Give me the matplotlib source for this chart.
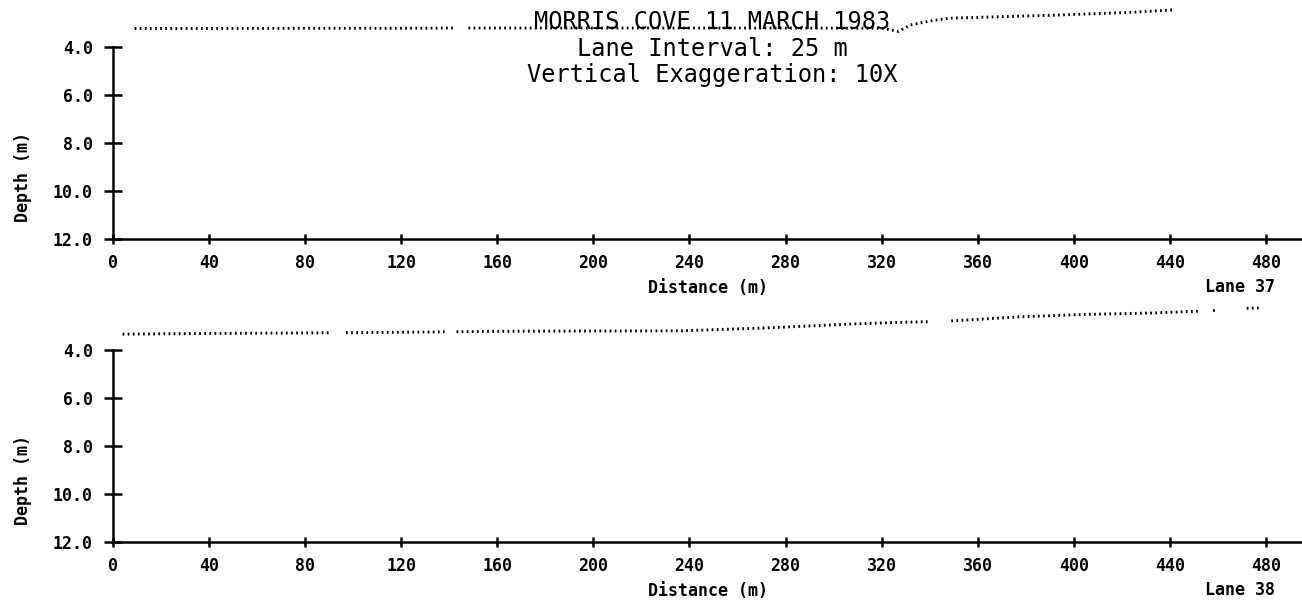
"""
Depth profiles, Morris Cove 11 March 1983, lanes 37 and 38
"""
import numpy as np
import matplotlib
matplotlib.use('Agg')
import matplotlib.pyplot as plt

# lane 37 profile (distance m, depth m), nan = gap in the soundings
dist37 = [9, 40, 80, 120, 142, 145, 148, 165, 200, 240, 280, 320, 327, 332, 340, 348, 362, 376, 390, 404, 425, 442]
depth37 = [3.23, 3.23, 3.22, 3.22, 3.21, np.nan, 3.21, 3.21, 3.21, 3.21, 3.21, 3.22, 3.35, 3.08, 2.92, 2.80,
           2.76, 2.72, 2.68, 2.63, 2.55, 2.45]

# lane 38 profile
dist38 = [4, 40, 80, 91, 94, 97, 133, 139, 141, 143, 160, 200, 237, 272, 307, 321, 335, 340, 344, 349, 377, 404,
          432, 453, 456, 458, 460, 466, 472, 478]
depth38 = [3.34, 3.31, 3.29, 3.28, np.nan, 3.28, 3.25, 3.24, np.nan, 3.24, 3.22, 3.21, 3.20, 3.08, 2.92, 2.87,
           2.83, 2.82, np.nan, 2.79, 2.62, 2.52, 2.46, 2.38, np.nan, 2.36, 2.34, np.nan, 2.26, 2.25]

lanes = ['Lane 37', 'Lane 38']
xticks = list(range(0, 481, 40))
yticks = [4.0, 6.0, 8.0, 10.0, 12.0]
title_lines = ['MORRIS COVE 11 MARCH 1983', 'Lane Interval: 25 m', 'Vertical Exaggeration: 10X']

MONO = 'DejaVu Sans Mono'

fig = plt.figure(figsize=(13.02, 6.10), dpi=100)

# axes boxes in pixels (top of box, bottom of box = 12 m line)
boxes = [(0, 239), (303, 542)]
W, H = 1302, 610
for (top, bot), xs, ys, lane in zip(boxes, [dist37, dist38], [depth37, depth38], lanes):
    ax = fig.add_axes([113 / W, 1 - bot / H, (W - 113) / W, (bot - top) / H])
    ax.plot(xs, ys, color='black', lw=2.1, linestyle=(0, (0.6, 1.15)), dash_capstyle='butt', clip_on=False)
    ax.set_xlim(0, 495)
    ax.set_ylim(12, 12 - (bot - top) / 24)
    ax.spines['top'].set_visible(False)
    ax.spines['right'].set_visible(False)
    ax.spines['left'].set_bounds(4, 12)
    ax.spines['left'].set_linewidth(1.8)
    ax.spines['bottom'].set_linewidth(1.8)
    ax.set_xticks(xticks)
    ax.set_yticks(yticks)
    ax.set_yticklabels([f'{v:.1f}' for v in yticks])
    ax.tick_params(axis='y', direction='inout', length=13, width=1.8, pad=8)
    ax.tick_params(axis='x', direction='inout', length=7, width=1.8, pad=7)
    for lab in ax.get_xticklabels() + ax.get_yticklabels():
        lab.set_fontfamily(MONO)
        lab.set_fontweight('bold')
        lab.set_fontsize(12)
    ax.set_xlabel('Distance (m)', fontfamily=MONO, fontweight='bold', fontsize=12)
    ax.xaxis.set_label_coords(0.5, -0.167)
    ax.set_ylabel('Depth (m)', fontfamily=MONO, fontweight='bold', fontsize=12)
    ax.yaxis.set_label_coords(-0.068, 0.26)
    ax.text(0.977, -0.2, lane, transform=ax.transAxes, ha='right', va='center',
            fontfamily=MONO, fontweight='bold', fontsize=12)
    ax.patch.set_alpha(0)

for i, line in enumerate(title_lines):
    fig.text(0.547, 1 - (22 + 26.5 * i) / H, line, ha='center', va='center', fontfamily=MONO, fontsize=17)

fig.savefig('out.png', dpi=100)
